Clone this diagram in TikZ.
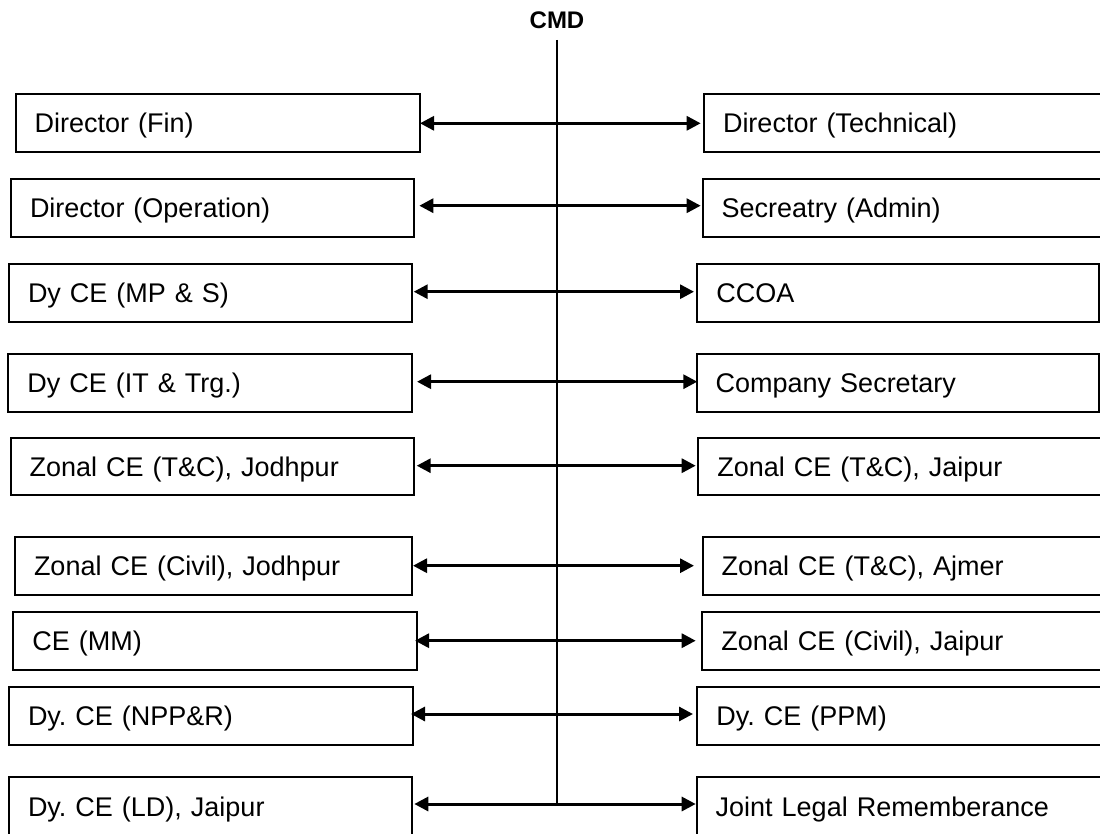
\documentclass[tikz,border=0pt]{standalone}
\usepackage{fontspec}
\setmainfont{Liberation Sans}
\usetikzlibrary{arrows.meta}
\frenchspacing
\begin{document}
\begin{tikzpicture}[x=1pt,y=-1pt,
  boxst/.style={draw, line width=2pt, rectangle, inner xsep=19pt, inner ysep=0pt, align=left,
    font=\fontsize{27}{32}\selectfont\frenchspacing, text height=19.5pt, text depth=0pt, anchor=center},
  conn/.style={line width=3pt, {Triangle[length=14pt,width=14pt]}-{Triangle[length=14pt,width=14pt]}},
  vline/.style={line width=1.5pt}]
\useasboundingbox (0,0) rectangle (1100,834);
% title
\node[font=\fontsize{24}{28}\selectfont\bfseries, inner sep=0pt, anchor=base] (cmd) at (557,29) {CMD};
% left column
\node[boxst, text width=366.3pt, minimum height=57.4pt] (L1) at (217.85,123) {Director (Fin)};
\node[boxst, text width=365.3pt, minimum height=57.7pt] (L2) at (212.65,207.85) {Director (Operation)};
\node[boxst, text width=365.3pt, minimum height=57.4pt] (L3) at (210.65,293) {Dy CE (MP \& S)};
\node[boxst, text width=365.4pt, minimum height=57.7pt] (L4) at (210,382.85) {Dy CE (IT \& Trg.)};
\node[boxst, text width=365.3pt, minimum height=56.7pt] (L5) at (212.35,466.65) {Zonal CE (T\&C), Jodhpur};
\node[boxst, text width=359.3pt, minimum height=57.7pt] (L6) at (213.65,566.15) {Zonal CE (Civil), Jodhpur};
\node[boxst, text width=366pt, minimum height=57.7pt] (L7) at (215.3,641.15) {CE (MM)};
\node[boxst, text width=366.3pt, minimum height=57.7pt] (L8) at (211.15,716.15) {Dy. CE (NPP\&R)};
\node[boxst, text width=365.3pt, minimum height=58.7pt] (L9) at (210.65,806.65) {Dy. CE (LD), Jaipur};
% right column
\node[boxst, text width=360pt, minimum height=57.4pt] (R1) at (903,123) {Director (Technical)};
\node[boxst, text width=361.3pt, minimum height=57.7pt] (R2) at (902.35,207.85) {Secreatry (Admin)};
\node[boxst, text width=364pt, minimum height=57.4pt] (R3) at (898.3,293) {CCOA};
\node[boxst, text width=364.3pt, minimum height=57.7pt] (R4) at (897.85,382.85) {Company Secretary};
\node[boxst, text width=365.7pt, minimum height=56.7pt] (R5) at (900.15,466.65) {Zonal CE (T\&C), Jaipur};
\node[boxst, text width=361.3pt, minimum height=57.7pt] (R6) at (902.35,566.15) {Zonal CE (T\&C), Ajmer};
\node[boxst, text width=361.7pt, minimum height=57.7pt] (R7) at (902.15,641.15) {Zonal CE (Civil), Jaipur};
\node[boxst, text width=366.7pt, minimum height=57.7pt] (R8) at (899.65,716.15) {Dy. CE (PPM)};
\node[boxst, text width=367.3pt, minimum height=58.7pt] (R9) at (899.35,806.65) {Joint Legal Rememberance};
% connectors
\draw[conn] ([shift={(-1,0.3)}]L1.east) -- ([shift={(-2.3,0.3)}]R1.west);
\draw[conn] ([shift={(4,-2.15)}]L2.east) -- ([shift={(-1,-2.15)}]R2.west);
\draw[conn] ([shift={(0.4,-1.3)}]L3.east) -- ([shift={(-2.3,-1.3)}]R3.west);
\draw[conn] ([shift={(4.3,-1.15)}]L4.east) -- ([shift={(1.6,-1.15)}]R4.west);
\draw[conn] ([shift={(1.7,-0.95)}]L5.east) -- ([shift={(-1.6,-0.95)}]R5.west);
\draw[conn] ([shift={(-0.3,-0.45)}]L6.east) -- ([shift={(-7.7,-0.45)}]R6.west);
\draw[conn] ([shift={(-3.3,-0.45)}]L7.east) -- ([shift={(-5.6,-0.45)}]R7.west);
\draw[conn] ([shift={(-3.3,-2.15)}]L8.east) -- ([shift={(-3.3,-2.15)}]R8.west);
\draw[conn] ([shift={(1,-2.65)}]L9.east) -- ([shift={(0,-2.65)}]R9.west);
% spine
\coordinate (spinebot) at (557,804);
\draw[vline] ([yshift=-11pt]cmd.base) -- (spinebot);
\end{tikzpicture}
\end{document}
